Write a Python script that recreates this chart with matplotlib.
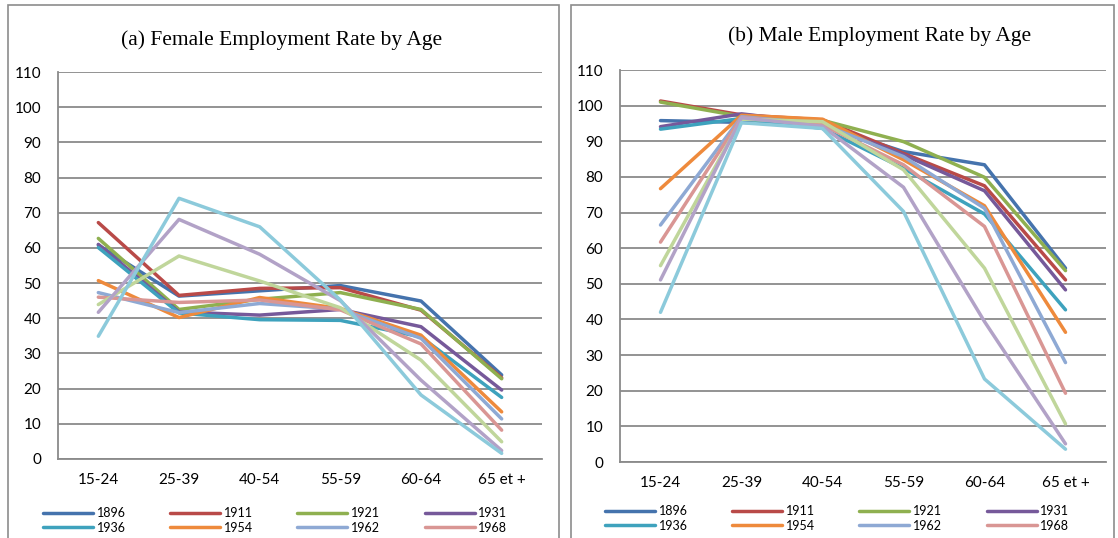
import numpy as np
import matplotlib.pyplot as plt
from matplotlib.patches import Rectangle

plt.rcParams['font.family'] = ['Lato', 'DejaVu Sans']

ages = ["15-24", "25-39", "40-54", "55-59", "60-64", "65 et +"]

# cohorts shown in the legend, then three extra unlabelled series
cohorts = ["1896", "1911", "1921", "1931", "1936", "1954", "1962", "1968", "", "", ""]

colors = ["#4573ad", "#b94a48", "#8fb050", "#76599a", "#3ea2bd", "#ee8a3c",
          "#8ea9d4", "#d99694", "#c0d69b", "#b2a2c7", "#8ccadb"]

female = [
    [60.8, 46.3, 47.8, 49.3, 44.9, 23.9],   # 1896
    [67.2, 46.5, 48.5, 48.7, 42.3, 23.1],   # 1911
    [62.7, 42.5, 45.4, 47.3, 42.5, 22.8],   # 1921
    [61.0, 41.8, 40.9, 42.5, 37.6, 19.6],   # 1931
    [60.1, 41.5, 39.6, 39.4, 34.7, 17.5],   # 1936
    [50.7, 40.2, 45.9, 42.8, 35.2, 13.4],   # 1954
    [47.3, 41.6, 44.2, 42.6, 34.3, 11.4],   # 1962
    [46.0, 44.5, 45.2, 42.4, 32.7, 8.2],    # 1968
    [43.9, 57.7, 50.6, 43.0, 28.1, 4.9],
    [41.7, 68.1, 58.2, 45.0, 22.4, 2.4],
    [34.9, 74.1, 66.0, 45.2, 18.2, 1.6],
]

male = [
    [95.8, 95.3, 94.5, 87.1, 83.4, 54.4],   # 1896
    [101.3, 97.4, 96.0, 86.6, 77.5, 51.1],  # 1911
    [101.0, 97.0, 95.9, 89.9, 79.9, 53.7],  # 1921
    [94.1, 97.7, 95.0, 86.2, 76.1, 48.3],   # 1931
    [93.4, 96.4, 93.6, 82.4, 69.6, 42.7],   # 1936
    [76.7, 97.3, 96.2, 84.8, 71.9, 36.4],   # 1954
    [66.5, 96.9, 94.8, 85.7, 71.2, 27.9],   # 1962
    [61.7, 96.7, 94.6, 83.4, 66.1, 19.3],   # 1968
    [55.1, 96.2, 95.5, 82.0, 54.4, 10.7],
    [51.1, 96.6, 94.2, 77.1, 39.4, 5.1],
    [42.0, 95.2, 93.6, 70.3, 23.3, 3.6],
]

fig = plt.figure(figsize=(11.18, 5.38), dpi=100)

# outer chart frames
for x0, w in [(8, 551), (571, 543)]:
    fig.patches.append(Rectangle((x0 / 1118, -0.02), w / 1118, 1.01, transform=fig.transFigure,
                                 fill=False, edgecolor="#8c8c8c", lw=1.2))

panels = [
    ([58 / 1118, 1 - 459 / 538, 484 / 1118, 387 / 538], female,
     "(a) Female Employment Rate by Age", 282, 40, 502),
    ([620 / 1118, 1 - 462 / 538, 486 / 1118, 392 / 538], male,
     "(b) Male Employment Rate by Age", 880, 36, 500),
]

x = np.arange(len(ages))
for rect, data, title, tx, ty, ly in panels:
    ax = fig.add_axes(rect)
    handles = []
    for vals, name, c in zip(data, cohorts, colors):
        ln, = ax.plot(x, vals, color=c, lw=2.5, solid_capstyle="round")
        if name:
            handles.append((ln, name))
    ax.set_xlim(-0.5, len(ages) - 0.5)
    ax.set_ylim(0, 110)
    ax.set_yticks(np.arange(0, 111, 10))
    ax.set_xticks(x)
    ax.set_xticklabels(ages)
    ax.grid(axis="y", color="#8a8a8a", lw=1.3)
    ax.set_axisbelow(True)
    for s in ["top", "right"]:
        ax.spines[s].set_visible(False)
    for s in ["left", "bottom"]:
        ax.spines[s].set_color("#8a8a8a")
        ax.spines[s].set_linewidth(1.3)
    ax.tick_params(length=0, labelsize=11, colors="black")
    ax.tick_params(axis="y", pad=12)
    ax.tick_params(axis="x", pad=10)

    # legend filled row by row (4 per row)
    order = [0, 4, 1, 5, 2, 6, 3, 7]
    hs = [handles[i][0] for i in order]
    ls = [handles[i][1] for i in order]
    left = rect[0] * 1118
    ax.legend(hs, ls, ncol=4, loc="upper left",
              bbox_to_anchor=((left - 20) / 1118, 1 - ly / 538), bbox_transform=fig.transFigure,
              frameon=False, fontsize=9, handlelength=4.0, handletextpad=0.3,
              columnspacing=3.55, labelspacing=0.2, borderaxespad=0)

    fig.text(tx / 1118, 1 - ty / 538, title, ha="center", va="center",
             family="Liberation Serif", fontsize=15.5)

fig.savefig("out.png", dpi=100)
